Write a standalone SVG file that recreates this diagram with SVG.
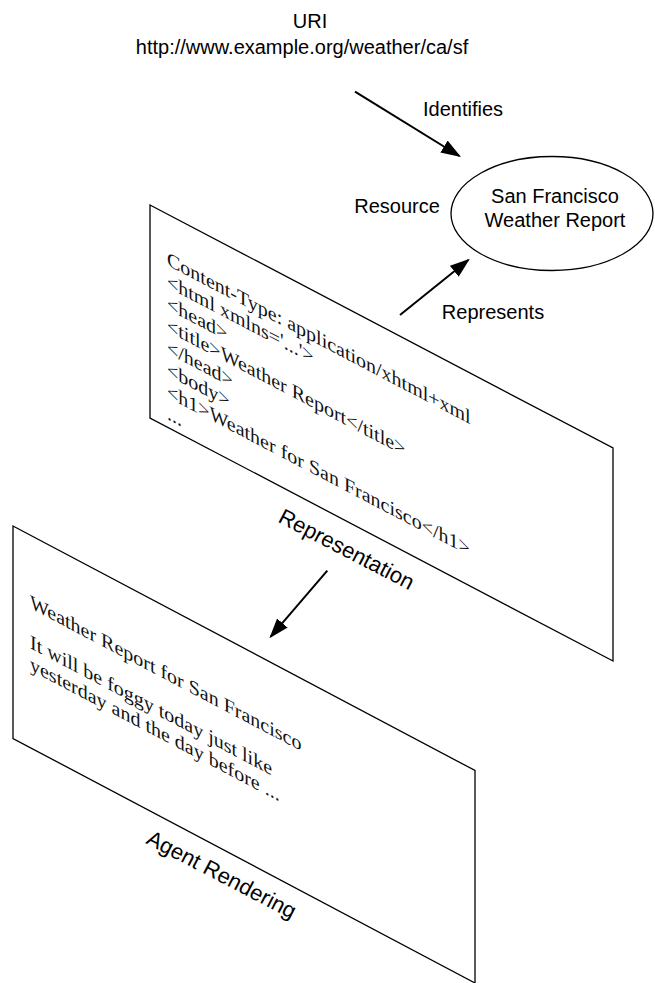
<svg xmlns="http://www.w3.org/2000/svg" width="655" height="983" viewBox="0 0 655 983">
  <style>
    .sans { font-family: "Liberation Sans", Arial, Helvetica, sans-serif; font-size: 20px; fill: #000; }
    .plane-label { font-size: 22px; }
    .serif { font-family: "Liberation Serif", "Times New Roman", serif; font-size: 20px; fill: #111; }
    .plane { fill: #fff; stroke: #000; stroke-width: 1.3; }
    .shape { fill: #fff; stroke: #000; stroke-width: 1.3; }
    .link { fill: none; stroke: #000; stroke-width: 2; }
  </style>
  <defs>
    <marker id="head" viewBox="0 0 20 14" refX="18" refY="7" markerWidth="20" markerHeight="14" markerUnits="userSpaceOnUse" orient="auto">
      <path d="M0,0 L20,7 L0,14 z" fill="#000"/>
    </marker>
  </defs>

  <!-- URI heading -->
  <g id="uri">
    <text class="sans" x="310" y="27.5" text-anchor="middle">URI</text>
    <text class="sans" x="302" y="54" text-anchor="middle">http://www.example.org/weather/ca/sf</text>
  </g>

  <!-- Resource ellipse -->
  <g id="resource">
    <ellipse class="shape" cx="552" cy="213.5" rx="101" ry="57"/>
    <text class="sans" x="555" y="202.5" text-anchor="middle">San Francisco</text>
    <text class="sans" x="555" y="226.5" text-anchor="middle">Weather Report</text>
    <text class="sans" x="397" y="212.5" text-anchor="middle">Resource</text>
  </g>

  <!-- Representation plane -->
  <g id="representation">
    <polygon class="plane" points="150,205 613,448 613,661 150,418"/>
    <g transform="translate(167,265) skewY(27.7)">
      <text class="serif" x="0" y="0">Content-Type: application/xhtml+xml</text>
      <text class="serif" x="0" y="22">&lt;html xmlns='...'&gt;</text>
      <text class="serif" x="0" y="44">&lt;head&gt;</text>
      <text class="serif" x="0" y="66">&lt;title&gt;Weather Report&lt;/title&gt;</text>
      <text class="serif" x="0" y="88">&lt;/head&gt;</text>
      <text class="serif" x="0" y="110">&lt;body&gt;</text>
      <text class="serif" x="0" y="132">&lt;h1&gt;Weather for San Francisco&lt;/h1&gt;</text>
      <text class="serif" x="0" y="154">...</text>
    </g>
    <text class="sans plane-label" transform="translate(277,521.5) rotate(27.5)">Representation</text>
  </g>

  <!-- Agent rendering plane -->
  <g id="rendering">
    <polygon class="plane" points="13,526 475,770.5 475,983 13,738.5"/>
    <g transform="translate(30,608) skewY(27.8)">
      <text class="serif" x="0" y="0">Weather Report for San Francisco</text>
      <text class="serif" x="0" y="40">It will be foggy today just like</text>
      <text class="serif" x="0" y="62">yesterday and the day before ...</text>
    </g>
    <text class="sans plane-label" transform="translate(145,843) rotate(27.5)">Agent Rendering</text>
  </g>

  <!-- Connectors -->
  <g id="connectors">
    <line class="link" x1="355" y1="91.7" x2="459.3" y2="156" marker-end="url(#head)"/>
    <text class="sans" x="463" y="116" text-anchor="middle">Identifies</text>
    <line class="link" x1="400" y1="315" x2="468.3" y2="260" marker-end="url(#head)"/>
    <text class="sans" x="493" y="319" text-anchor="middle">Represents</text>
    <line class="link" x1="327.3" y1="570.7" x2="270.7" y2="636.7" marker-end="url(#head)"/>
  </g>
</svg>
